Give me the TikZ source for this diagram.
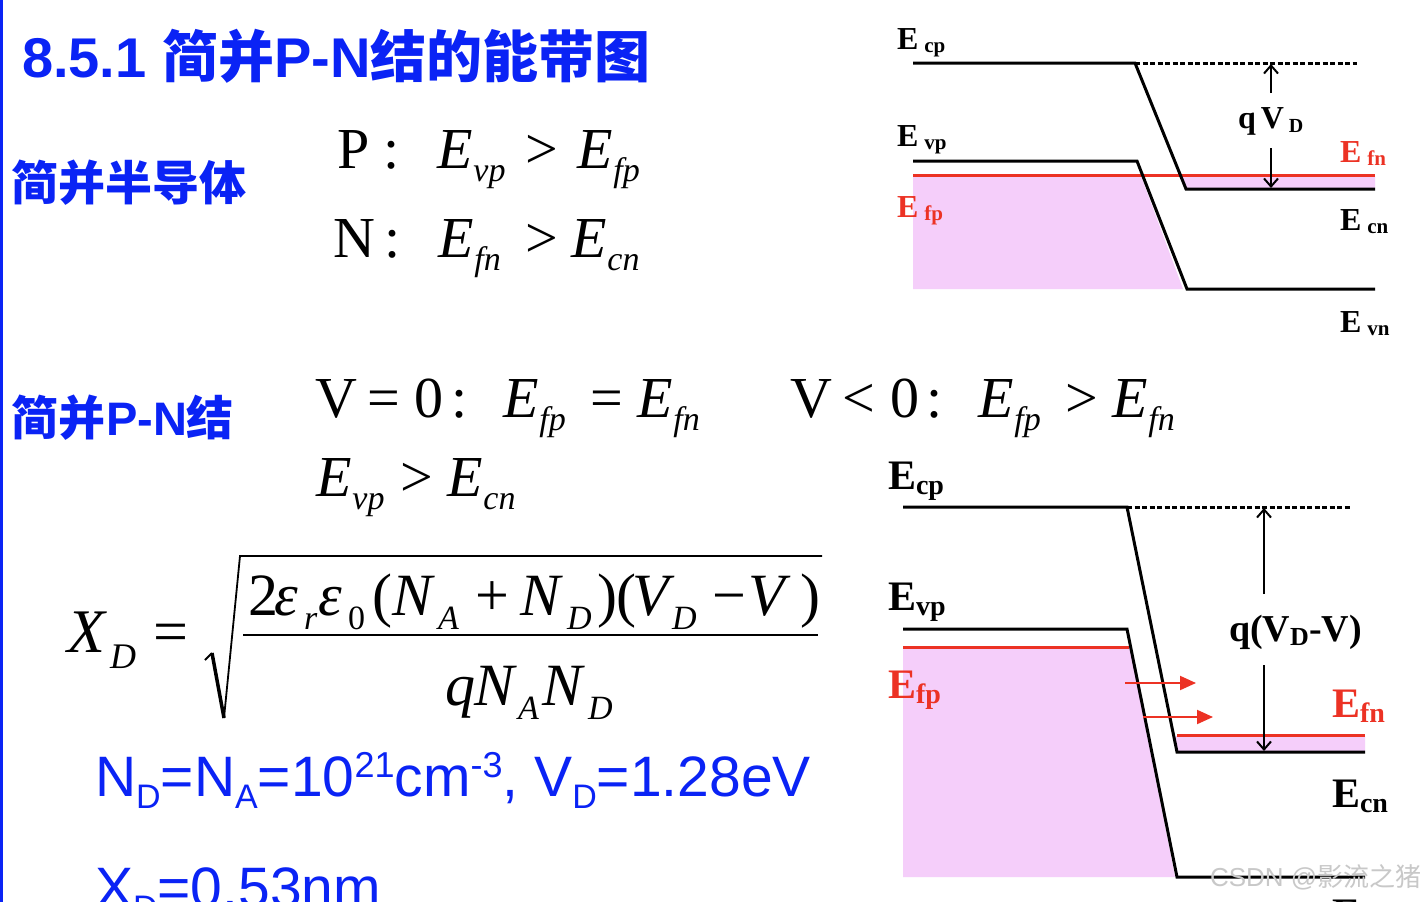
\documentclass[tikz,border=0pt]{standalone}
\usepackage{fontspec}
\setmainfont{Liberation Serif}
\newfontfamily\ars{Liberation Sans}
\newfontfamily\cjk{Noto Sans CJK SC}
\usetikzlibrary{arrows.meta}
\definecolor{blueT}{RGB}{10,35,245}
\definecolor{redT}{RGB}{236,50,36}
\definecolor{pinkT}{RGB}{245,206,250}
\definecolor{wmark}{RGB}{200,200,200}
\newcommand\fsz[1]{\fontsize{#1}{#1}\selectfont}
\newcommand\Es[1]{\textit{E}\kern1pt\raisebox{-13pt}{\fsz{34}\itshape #1}}
\newcommand\mb[2]{\makebox[#1pt][l]{#2}}
\newcommand\lo[1]{\raisebox{-14pt}{\fsz{34}\itshape #1}}
\newcommand\lblT[1]{\textbf{E}\hspace{6pt}\raisebox{-3pt}{\fsz{21}\bfseries #1}}
\newcommand\lblB[1]{\textbf{E}\raisebox{-5pt}{\fsz{28}\bfseries #1}}
\tikzset{
  txt/.style={anchor=base west, inner sep=0pt, outer sep=0pt},
  band/.style={draw=black, line width=3pt, line join=miter},
  fermi/.style={draw=redT, line width=3pt},
  dotline/.style={draw=black, line width=3pt, dash pattern=on 5pt off 2.5pt},
  barb/.style={draw=black, line width=1.6pt, -{Straight Barb[length=8pt,width=14pt,line width=2pt]}},
  redarrow/.style={draw=redT, line width=2pt, -{Triangle[length=16pt,width=14pt]}},
}
\begin{document}
\begin{tikzpicture}[x=1pt,y=-1pt]
\useasboundingbox (0,0) rectangle (1424,902);
\clip (0,0) rectangle (1424,902);
\fill[white] (0,0) rectangle (1424,902);
\fill[blueT] (0,0) rectangle (3,902);

% ---------- left texts ----------
\node[txt,text=blueT] (title) at (22,77) {\fsz{56}\bfseries\ars 8.5.1 \cjk 简并\ars P-N\cjk 结的能带图};
\node[txt,text=blueT] (jbsemi) at (12,200) {\fsz{47}\bfseries\cjk 简并半导体};
\node[txt,text=blueT] (jbpn) at (12,435) {\fsz{47}\bfseries\cjk 简并\ars P-N\cjk 结};

\node[txt] (rowP) at (337,168) {\fsz{58}\mb{100}{P\hspace{14pt}:}\mb{88}{\Es{vp}}\mb{52}{>}\Es{fp}};
\node[txt] (rowN) at (333,257) {\fsz{58}\mb{105}{N\hspace{10pt}:}\mb{87}{\Es{fn}}\mb{46}{>}\Es{cn}};
\node[txt] (rowV0) at (315,417) {\fsz{58}\mb{53}{V}\mb{47}{=}\mb{37}{0}\mb{51}{:}\mb{87}{\Es{fp}}\mb{47}{=}\Es{fn}};
\node[txt] (rowVn) at (790,417) {\fsz{58}\mb{53}{V}\mb{47}{<}\mb{37}{0}\mb{51}{:}\mb{87}{\Es{fp}}\mb{47}{>}\Es{fn}};
\node[txt] (rowEv) at (316,496) {\fsz{58}\mb{84}{\Es{vp}}\mb{47}{>}\Es{cn}};

% X_D formula
\node[txt] (xd) at (67,652) {\fsz{62}\mb{43}{\textit{X}}\raisebox{-16pt}{\fsz{36}\itshape D}};
\node[txt] (eqs) at (153,652) {\fsz{62}=};
\coordinate (r1) at (205,660);
\coordinate (r2) at (212,653);
\coordinate (r3) at (224,718);
\coordinate (r4) at (240,556);
\coordinate (r5) at (822,556);
\draw[line width=2pt] (r1) -- (r2);
\draw[line width=3.5pt] (r2) -- (r3);
\draw[line width=1.8pt, line join=miter] (r3) -- (r4) -- (r5);
\node[txt] (num) at (248,615) {\fsz{60}\mb{26}{2}\mb{30}{\textit{ε}}\mb{14}{\lo{r}}\mb{30}{\textit{ε}}\mb{24}{\raisebox{-14pt}{\fsz{34}0}}\mb{20}{(}\mb{46}{\textit{N}}\mb{37}{\lo{A}}\mb{45}{+}\mb{47}{\textit{N}}\mb{30}{\lo{D}}\mb{35}{)(}\mb{40}{\textit{V}}\mb{40}{\lo{D}}\mb{36}{−}\mb{52}{\textit{V}})};
\coordinate (f1) at (243,635);
\coordinate (f2) at (818,635);
\draw[line width=2.5pt] (f1) -- (f2);
\node[txt] (den) at (445,705) {\fsz{60}\mb{29}{\textit{q}}\mb{44}{\textit{N}}\mb{24}{\lo{A}}\mb{46}{\textit{N}}\lo{D}};

\node[txt,text=blueT] (ndna) at (95,796) {\ars\fsz{57}N\raisebox{-12pt}{\fsz{34}D}=N\raisebox{-12pt}{\fsz{34}A}=10\raisebox{19pt}{\fsz{36}21}cm\raisebox{19pt}{\fsz{36}-3}, V\raisebox{-12pt}{\fsz{34}D}=1.28eV};
\node[txt,text=blueT] (xdval) at (95,907) {\ars\fsz{57}X\raisebox{-12pt}{\fsz{34}D}=0.53nm};

% ---------- top-right diagram (V = 0) ----------
\coordinate (a1) at (913,63);
\coordinate (a2) at (1135,63);
\coordinate (a3) at (1186,189);
\coordinate (a4) at (1375,189);
\coordinate (a5) at (1357,63);
\coordinate (b1) at (913,161);
\coordinate (b2) at (1137,161);
\coordinate (b3) at (1187,289);
\coordinate (b4) at (1375,289);
\coordinate (c1) at (913,175);
\coordinate (c2) at (1375,175);
\fill[pinkT] (913,176) -- (1141,176) -- (1183,289) -- (913,289) -- cycle;
\fill[pinkT] (1181,176) -- (1375,176) -- (1375,188) -- (1186,188) -- cycle;
\draw[fermi] (c1) -- (c2);
\draw[band] (a1) -- (a2) -- (a3) -- (a4);
\draw[band] (b1) -- (b2) -- (b3) -- (b4);
\draw[dotline] (a2) -- (a5);
\coordinate (v1) at (1271,93);
\coordinate (v2) at (1271,64);
\coordinate (v3) at (1271,148);
\coordinate (v4) at (1271,188);
\draw[barb] (v1) -- (v2);
\draw[barb] (v3) -- (v4);
\node[txt] (qvd) at (1238,128) {\fsz{32}\bfseries q\hspace{5pt}V\hspace{5pt}\raisebox{-4pt}{\fsz{20}D}};
\node[txt] (tEcp) at (897,49) {\fsz{32}\lblT{cp}};
\node[txt] (tEvp) at (897,146) {\fsz{32}\lblT{vp}};
\node[txt,text=redT] (tEfp) at (897,217) {\fsz{32}\lblT{fp}};
\node[txt,text=redT] (tEfn) at (1340,162) {\fsz{32}\lblT{fn}};
\node[txt] (tEcn) at (1340,230) {\fsz{32}\lblT{cn}};
\node[txt] (tEvn) at (1340,332) {\fsz{32}\lblT{vn}};

% ---------- bottom-right diagram (V < 0) ----------
\coordinate (d1) at (903,507);
\coordinate (d2) at (1127,507);
\coordinate (d3) at (1177,752);
\coordinate (d4) at (1365,752);
\coordinate (d5) at (1350,507);
\coordinate (e1) at (903,629);
\coordinate (e2) at (1127,629);
\coordinate (e3) at (1177,877);
\coordinate (e4) at (1365,877);
\coordinate (g1) at (903,647);
\coordinate (g2) at (1129,647);
\coordinate (h1) at (1177,735);
\coordinate (h2) at (1365,735);
\fill[pinkT] (903,648) -- (1130,648) -- (1175,877) -- (903,877) -- cycle;
\fill[pinkT] (1175,736) -- (1365,736) -- (1365,751) -- (1177,751) -- cycle;
\draw[fermi] (g1) -- (g2);
\draw[fermi] (h1) -- (h2);
\draw[band] (d1) -- (d2) -- (d3) -- (d4);
\draw[band] (e1) -- (e2) -- (e3) -- (e4);
\draw[dotline] (d2) -- (d5);
\coordinate (ra1) at (1125,683);
\coordinate (ra2) at (1196,683);
\coordinate (rb1) at (1143,717);
\coordinate (rb2) at (1213,717);
\draw[redarrow] (ra1) -- (ra2);
\draw[redarrow] (rb1) -- (rb2);
\coordinate (w1) at (1264,594);
\coordinate (w2) at (1264,508);
\coordinate (w3) at (1264,665);
\coordinate (w4) at (1264,751);
\draw[barb] (w1) -- (w2);
\draw[barb] (w3) -- (w4);
\node[txt] (qvdv) at (1229,641) {\fsz{38}\bfseries q(V\raisebox{-4pt}{\fsz{26}D}-V)};
\node[txt] (bEcp) at (888,489) {\fsz{42}\lblB{cp}};
\node[txt] (bEvp) at (888,610) {\fsz{42}\lblB{vp}};
\node[txt,text=redT] (bEfp) at (888,698) {\fsz{42}\lblB{fp}};
\node[txt,text=redT] (bEfn) at (1332,717) {\fsz{42}\lblB{fn}};
\node[txt] (bEcn) at (1332,807) {\fsz{42}\lblB{cn}};
\node[txt] (bEvn) at (1332,927) {\fsz{42}\lblB{vn}};

\node[txt,text=wmark] (wm) at (1210,886) {\fsz{26}\ars CSDN @\cjk 影流之猪};
\end{tikzpicture}
\end{document}
